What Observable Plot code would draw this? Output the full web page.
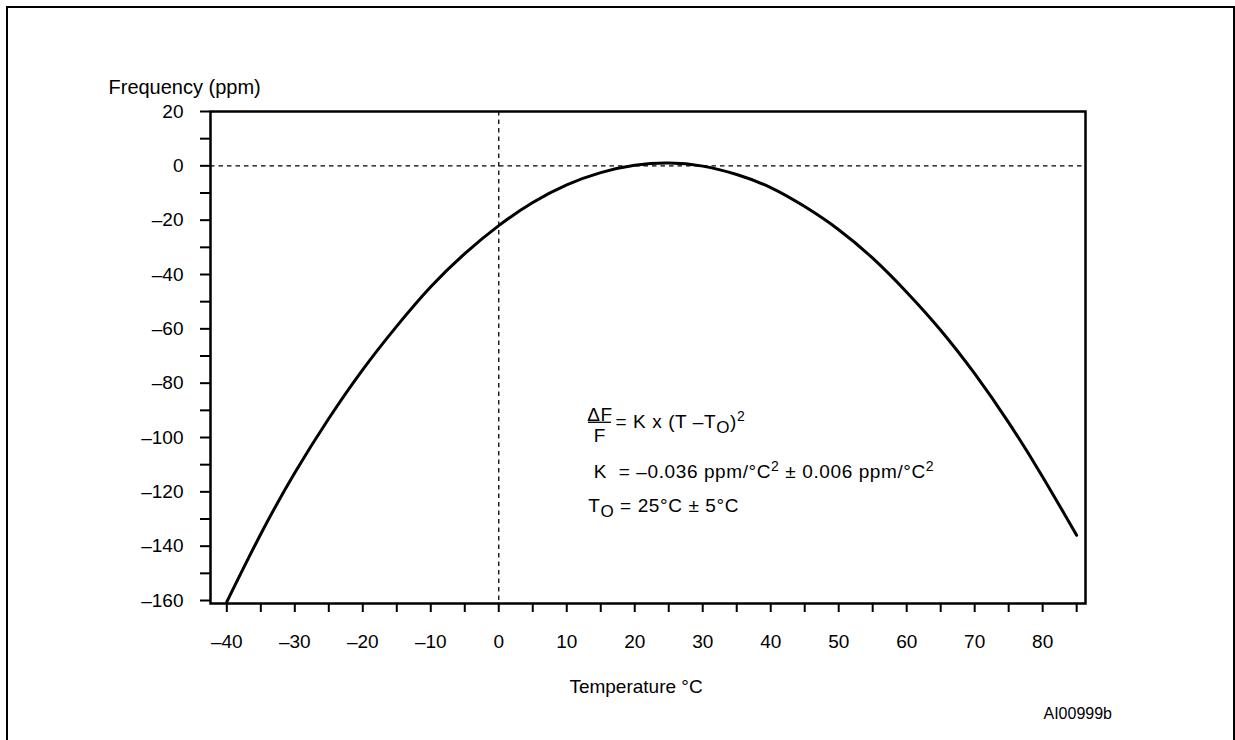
<!DOCTYPE html>
<html>
<head>
<meta charset="utf-8">
<script src="https://cdn.jsdelivr.net/npm/d3@7"></script>
<script src="https://cdn.jsdelivr.net/npm/@observablehq/plot@0.6"></script>
<style>
  html, body { margin: 0; padding: 0; background: #fff; }
  #wrap { position: relative; width: 1235px; height: 740px; overflow: hidden; }
  #border { position: absolute; left: 6px; top: 6px; width: 1229px; height: 800px; border: 2px solid #000; box-sizing: border-box; pointer-events: none; }
  g.rich text { white-space: pre; letter-spacing: 0.6px; }
</style>
</head>
<body>
<div id="wrap"><div id="border"></div></div>
<script>
// ---- data ----
const temperature = [-40, -35, -30, -25, -20, -15, -10, -5, 0, 5, 10, 15, 20, 25, 30, 35, 40, 45, 50, 55, 60, 65, 70, 75, 80, 85];
const frequencyPpm = [-160.5, -135.5, -113, -93, -75, -59, -44.5, -32.3, -22, -13.5, -7, -2.5, 0.2, 1, -0.1, -3.2, -8, -15, -23.5, -34, -46.5, -60.5, -76.5, -94.5, -114.5, -136];

const xTickValues = [-40, -30, -20, -10, 0, 10, 20, 30, 40, 50, 60, 70, 80];
const xTickLabels = ["–40", "–30", "–20", "–10", "0", "10", "20", "30", "40", "50", "60", "70", "80"];
const xMinorTicks = [-35, -25, -15, -5, 5, 15, 25, 35, 45, 55, 65, 75, 85];

const yTickValues = [20, 0, -20, -40, -60, -80, -100, -120, -140, -160];
const yTickLabels = ["20", "0", "–20", "–40", "–60", "–80", "–100", "–120", "–140", "–160"];
const yMinorTicks = [10, -10, -30, -50, -70, -90, -110, -130, -150];

const yAxisTitle = "Frequency (ppm)";
const xAxisTitle = "Temperature °C";
const figureCode = "AI00999b";
const formulaTexts = [
  "ΔF",
  "F",
  "= K x (T –T_{O})^{2}",
  "K  = –0.036 ppm/°C^{2} ± 0.006 ppm/°C^{2}",
  "T_{O} = 25°C ± 5°C"
];

// ---- build ----
const curve = temperature.map((t, i) => ({t, v: frequencyPpm[i]}));
const xAll = [...xTickValues, ...xMinorTicks].sort((a, b) => a - b);
const yAll = [...yTickValues, ...yMinorTicks].sort((a, b) => a - b);
const xFmt = d => { const i = xTickValues.indexOf(d); return i >= 0 ? xTickLabels[i] : ""; };
const yFmt = d => { const i = yTickValues.indexOf(d); return i >= 0 ? yTickLabels[i] : ""; };

const font = "'Liberation Sans', Arial, Helvetica, sans-serif";
const dash = "4.5,4";

const chart = Plot.plot({
  width: 1235,
  height: 740,
  marginLeft: 210,
  marginRight: 150,
  marginTop: 111,
  marginBottom: 137,
  x: {domain: [-42.4, 86.3], label: null},
  y: {domain: [-161.1, 20], label: null},
  style: {fontFamily: font, fontSize: "19px", color: "#000", background: "transparent", overflow: "visible"},
  marks: [
    Plot.ruleX([0], {stroke: "#000", strokeWidth: 1.3, strokeDasharray: dash}),
    Plot.ruleY([0], {stroke: "#000", strokeWidth: 1.3, strokeDasharray: dash}),
    Plot.line(curve, {x: "t", y: "v", curve: "natural", stroke: "#000", strokeWidth: 3}),
    Plot.frame({stroke: "#000", strokeWidth: 2.5}),
    Plot.axisX(xAll, {tickSize: 9, tickPadding: 22, tickFormat: xFmt, strokeWidth: 2, fontSize: 19, fill: "#000"}),
    Plot.axisY(yAll, {tickSize: 10, tickPadding: 17, tickFormat: yFmt, strokeWidth: 2, fontSize: 19, fill: "#000"}),
    // axis titles and figure code
    Plot.text([yAxisTitle], {frameAnchor: "top-left", textAnchor: "start", dx: -102, dy: -32, fontSize: 20, fill: "#000"}),
    Plot.text([xAxisTitle], {frameAnchor: "bottom", textAnchor: "middle", dx: -12, dy: 89, fontSize: 19, fill: "#000"}),
    Plot.text([figureCode], {frameAnchor: "bottom-right", textAnchor: "start", dx: -42, dy: 115, fontSize: 16, fill: "#000"}),
    // formula annotation (anchored in data units)
    Plot.text([formulaTexts[0]], {x: 14.88, y: -91.6, textAnchor: "middle", fontSize: 19, fill: "#000", className: "rich"}),
    Plot.ruleY([-94.4], {x1: 13.19, x2: 16.58, stroke: "#000", strokeWidth: 1.3}),
    Plot.text([formulaTexts[1]], {x: 14.88, y: -99.3, textAnchor: "middle", fontSize: 19, fill: "#000", className: "rich"}),
    Plot.text([formulaTexts[2]], {x: 17.16, y: -94.2, textAnchor: "start", fontSize: 19, fill: "#000", className: "rich"}),
    Plot.text([formulaTexts[3]], {x: 13.97, y: -112.8, textAnchor: "start", fontSize: 19, fill: "#000", className: "rich"}),
    Plot.text([formulaTexts[4]], {x: 13.15, y: -125.1, textAnchor: "start", fontSize: 19, fill: "#000", className: "rich"})
  ]
});

// rich text: _{..} subscript, ^{..} superscript
const SVGNS = "http://www.w3.org/2000/svg";
d3.select(chart).selectAll("g.rich text").each(function () {
  const raw = this.textContent;
  const parts = raw.split(/(_\{[^}]*\}|\^\{[^}]*\})/).filter(p => p !== "");
  this.textContent = "";
  let offset = 0;
  for (const p of parts) {
    let target = 0, size = null, txt = p;
    if (p.startsWith("_{")) { target = 5.5; size = 17; txt = p.slice(2, -1); }
    else if (p.startsWith("^{")) { target = -7; size = 14; txt = p.slice(2, -1); }
    const ts = document.createElementNS(SVGNS, "tspan");
    ts.setAttribute("dy", target - offset);
    offset = target;
    if (size) ts.setAttribute("font-size", size);
    ts.textContent = txt;
    this.appendChild(ts);
  }
});

chart.style.position = "absolute";
chart.style.left = "0";
chart.style.top = "0";
document.getElementById("wrap").appendChild(chart);
</script>
</body>
</html>
